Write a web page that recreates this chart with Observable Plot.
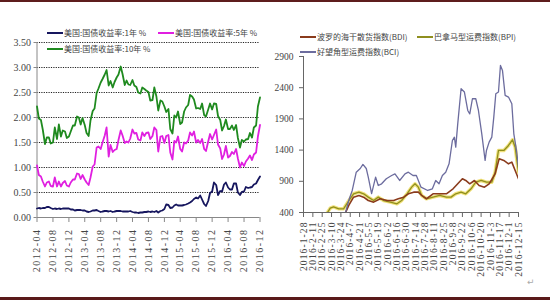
<!DOCTYPE html>
<html><head><meta charset="utf-8">
<script src="https://cdn.jsdelivr.net/npm/d3@7"></script>
<script src="https://cdn.jsdelivr.net/npm/@observablehq/plot@0.6"></script>
<style>
body{margin:0;background:#fff;}
#wrap{position:relative;width:550px;height:300px;overflow:hidden;background:#fff;}
.panel{position:absolute;top:0;}
.leg{position:absolute;font-family:"Noto Sans CJK SC";font-size:8px;color:#444;white-space:nowrap;display:flex;align-items:center;height:10px;line-height:10px;}
.leg i{display:inline-block;width:16px;height:2px;margin-right:1px;}
.lx g[aria-label="x-axis tick label"] text{letter-spacing:1.5px;}
.rx g[aria-label="x-axis tick label"] text{letter-spacing:1.1px;}
</style></head><body><div id="wrap"></div>
<script>
// ---------- Left chart: US treasury yields (semi-monthly: 1st & 15th, 2012-04-01 .. 2016-12-01)
const yieldStartYear = 2012, yieldStartMonth = 4, yieldCount = 113;
const yield10 = [
2.22,1.98, 1.95,1.76, 1.47,1.60, 1.60,1.48, 1.50,1.80, 1.57,1.86, 1.62,1.74, 1.72,1.59, 1.62,1.72,
1.84,1.84, 2.02,2.00, 1.86,1.99, 1.85,1.69, 1.63,1.94, 2.13,2.18, 2.49,2.58, 2.70,2.77, 2.86,2.95, 2.64,2.73, 2.60,2.71, 2.80,2.86,
3.02,2.87, 2.65,2.74, 2.66,2.65, 2.75,2.64, 2.61,2.50, 2.48,2.60, 2.57,2.54, 2.51,2.34, 2.35,2.60, 2.42,2.14, 2.34,2.32, 2.22,2.11,
2.17,1.77, 1.68,2.04, 2.00,2.12, 1.87,1.90, 2.12,2.20, 2.25,2.45, 2.42,2.36, 2.18,2.19, 2.17,2.28, 2.05,2.02, 2.16,2.28, 2.16,2.28,
2.27,2.03, 1.95,1.74, 1.83,1.96, 1.77,1.77, 1.84,1.75, 1.85,1.59, 1.40,1.55, 1.52,1.56, 1.57,1.69, 1.60,1.80, 1.84,2.22,
2.40];
const yield5 = [
1.04,0.85, 0.82,0.72, 0.62,0.70, 0.72,0.63, 0.62,0.80, 0.62,0.72, 0.62,0.69, 0.73,0.64, 0.62,0.70,
0.76,0.76, 0.88,0.87, 0.77,0.85, 0.76,0.70, 0.65,0.80, 1.02,1.06, 1.40,1.42, 1.37,1.50, 1.64,1.80, 1.22,1.45, 1.31,1.35, 1.37,1.55,
1.74,1.64, 1.49,1.52, 1.50,1.58, 1.76,1.68, 1.69,1.56, 1.54,1.70, 1.63,1.69, 1.70,1.57, 1.63,1.80, 1.75,1.32, 1.62,1.63, 1.49,1.63,
1.65,1.30, 1.16,1.53, 1.50,1.62, 1.37,1.32, 1.50,1.48, 1.54,1.70, 1.64,1.72, 1.50,1.55, 1.49,1.57, 1.37,1.33, 1.52,1.67, 1.56,1.65,
1.76,1.46, 1.38,1.17, 1.26,1.43, 1.20,1.23, 1.31,1.27, 1.37,1.18, 1.00,1.10, 1.03,1.12, 1.18,1.24, 1.15,1.26, 1.30,1.62,
1.85];
const yield1 = [
0.18,0.19, 0.18,0.19, 0.19,0.21, 0.21,0.19, 0.17,0.18, 0.17,0.18, 0.17,0.18, 0.18,0.18, 0.18,0.16,
0.16,0.14, 0.15,0.15, 0.15,0.14, 0.14,0.12, 0.11,0.12, 0.14,0.14, 0.15,0.13, 0.11,0.12, 0.13,0.13, 0.12,0.13, 0.11,0.12, 0.13,0.13,
0.13,0.12, 0.12,0.12, 0.12,0.13, 0.11,0.10, 0.10,0.09, 0.10,0.10, 0.11,0.11, 0.12,0.11, 0.12,0.11, 0.13,0.10, 0.13,0.14, 0.17,0.26,
0.25,0.19, 0.20,0.24, 0.26,0.24, 0.24,0.24, 0.25,0.26, 0.28,0.30, 0.33,0.37, 0.40,0.38, 0.44,0.36, 0.27,0.23, 0.33,0.49, 0.52,0.70,
0.65,0.45, 0.53,0.52, 0.66,0.70, 0.60,0.56, 0.56,0.68, 0.68,0.50, 0.45,0.51, 0.52,0.61, 0.59,0.60, 0.61,0.66, 0.68,0.75,
0.82];
const leftYTicks = [0, 0.5, 1, 1.5, 2, 2.5, 3, 3.5];
const leftXTickCount = 15; // 2012-04 .. 2016-12 every 4 months

// ---------- Right chart: dry bulk freight indices 2016
const bdi = [["2016-01-28",337],["2016-02-11",290],["2016-03-03",350],["2016-03-23",390],["2016-03-31",400],["2016-04-05",517],["2016-04-12",646],["2016-04-20",673],["2016-04-27",646],["2016-05-04",592],["2016-05-12",566],["2016-05-22",620],["2016-06-01",592],["2016-06-11",592],["2016-06-18",620],["2016-06-26",646],["2016-07-03",700],["2016-07-11",726],["2016-07-18",726],["2016-07-23",673],["2016-07-30",620],["2016-08-09",700],["2016-08-19",700],["2016-08-29",700],["2016-09-08",780],["2016-09-15",860],["2016-09-22",940],["2016-09-27",913],["2016-10-03",860],["2016-10-10",913],["2016-10-17",833],["2016-10-25",806],["2016-11-01",860],["2016-11-10",1020],["2016-11-16",1260],["2016-11-23",1234],["2016-11-30",1180],["2016-12-05",1207],["2016-12-10",1073],["2016-12-15",940]];
const bpi = [["2016-01-28",360],["2016-02-11",300],["2016-02-27",330],["2016-03-04",400],["2016-03-08",470],["2016-03-13",490],["2016-03-21",459],["2016-03-28",459],["2016-04-05",592],["2016-04-12",700],["2016-04-20",726],["2016-04-27",700],["2016-05-04",646],["2016-05-12",592],["2016-05-19",646],["2016-05-27",592],["2016-06-06",566],["2016-06-16",540],["2016-06-23",592],["2016-07-01",700],["2016-07-08",806],["2016-07-13",860],["2016-07-18",806],["2016-07-23",673],["2016-07-30",620],["2016-08-09",646],["2016-08-19",673],["2016-08-29",646],["2016-09-05",646],["2016-09-12",700],["2016-09-20",726],["2016-09-27",700],["2016-10-05",780],["2016-10-12",886],["2016-10-20",913],["2016-10-28",886],["2016-11-05",886],["2016-11-10",1046],["2016-11-15",1394],["2016-11-23",1394],["2016-11-30",1474],["2016-12-06",1565],["2016-12-10",1447],["2016-12-15",1046]];
const bci = [["2016-01-28",290],["2016-02-11",200],["2016-03-03",250],["2016-03-23",330],["2016-03-31",400],["2016-04-05",600],["2016-04-10",753],["2016-04-16",1046],["2016-04-22",1105],["2016-04-26",1170],["2016-05-01",1105],["2016-05-04",966],["2016-05-09",704],["2016-05-15",966],["2016-05-19",833],["2016-05-24",860],["2016-05-31",940],["2016-06-08",993],["2016-06-13",1020],["2016-06-20",913],["2016-06-28",1020],["2016-07-03",1046],["2016-07-10",993],["2016-07-15",993],["2016-07-22",806],["2016-08-01",753],["2016-08-08",780],["2016-08-13",913],["2016-08-18",860],["2016-08-23",993],["2016-08-28",1046],["2016-09-02",1180],["2016-09-07",1554],["2016-09-10",1607],["2016-09-12",1447],["2016-09-15",1821],["2016-09-20",2383],["2016-09-25",2330],["2016-09-30",2035],["2016-10-03",1981],["2016-10-07",2223],["2016-10-12",2223],["2016-10-16",2035],["2016-10-21",1661],["2016-10-26",1234],["2016-10-28",1394],["2016-11-01",1528],["2016-11-05",1607],["2016-11-08",1928],["2016-11-11",2303],["2016-11-15",2330],["2016-11-18",2757],["2016-11-21",2677],["2016-11-25",2276],["2016-11-30",2250],["2016-12-05",2143],["2016-12-08",1661],["2016-12-12",1394],["2016-12-15",1126]];
const rightYTicks = [400, 900, 1400, 1900, 2400, 2900];
const rightXTickCount = 24; // 2016-1-28 .. 2016-12-15 every 14 days

// ---------- build tables
const yieldDates = d3.range(yieldCount).map(i => new Date(Date.UTC(yieldStartYear, yieldStartMonth - 1 + Math.floor(i / 2), i % 2 ? 15 : 1)));
const toRows = vals => vals.map((v, i) => ({date: yieldDates[i], value: v}));
const leftXTicks = d3.range(leftXTickCount).map(i => new Date(Date.UTC(yieldStartYear, yieldStartMonth - 1 + 4 * i, 1)));
const rightXTicks = d3.range(rightXTickCount).map(i => new Date(Date.UTC(2016, 0, 28 + 14 * i)));
const rows = arr => arr.map(([d, v]) => ({date: new Date(d + "T00:00:00Z"), value: v}));

const wrap = document.getElementById("wrap");

const leftChart = Plot.plot({
  width: 270, height: 300,
  marginLeft: 36.5, marginRight: 10.5, marginTop: 42, marginBottom: 83,
  style: {fontFamily: "'Liberation Serif', serif", fontSize: "10px", color: "#333", background: "transparent"},
  x: {type: "utc", domain: [leftXTicks[0], leftXTicks[leftXTicks.length - 1]]},
  y: {domain: [0, 3.5]},
  marks: [
    Plot.gridY(leftYTicks.filter(d => d > 0), {stroke: "#222", strokeOpacity: 1, strokeDasharray: "1.2,1.2", strokeWidth: 1}),
    Plot.axisY(leftYTicks, {label: null, tickFormat: d3.format(".2f"), tickSize: 3, tickPadding: 3, stroke: "#888", fill: "#444"}),
    Plot.axisX(leftXTicks, {label: null, tickFormat: d => `${d.getUTCFullYear()}-${String(d.getUTCMonth() + 1).padStart(2, "0")}`, tickRotate: -90, tickSize: 5, tickPadding: 6, stroke: "#888", fill: "#444"}),
    Plot.ruleY([0], {stroke: "#888"}),
    Plot.ruleX([leftXTicks[0]], {stroke: "#888"}),
    Plot.lineY(toRows(yield10), {x: "date", y: "value", stroke: "#1f8a1f", strokeWidth: 1.8}),
    Plot.lineY(toRows(yield5), {x: "date", y: "value", stroke: "#e01fe0", strokeWidth: 1.8}),
    Plot.lineY(toRows(yield1), {x: "date", y: "value", stroke: "#16165e", strokeWidth: 1.8})
  ]
});
leftChart.classList.add("panel", "lx");
leftChart.style.left = "0px";
wrap.appendChild(leftChart);

const rightChart = Plot.plot({
  width: 280, height: 300,
  marginLeft: 33, marginRight: 32, marginTop: 56, marginBottom: 88,
  style: {fontFamily: "'Liberation Serif', serif", fontSize: "9.5px", color: "#333", background: "transparent"},
  x: {type: "utc", domain: [rightXTicks[0], rightXTicks[rightXTicks.length - 1]]},
  y: {domain: [400, 2900]},
  marks: [
    Plot.axisY(rightYTicks, {label: null, tickFormat: d3.format("d"), tickSize: 4, tickPadding: 6, stroke: "#666", fill: "#444"}),
    Plot.axisX(rightXTicks, {label: null, tickFormat: d => `${d.getUTCFullYear()}-${d.getUTCMonth() + 1}-${d.getUTCDate()}`, tickRotate: -90, tickSize: 5, tickPadding: 4, stroke: "#666", fill: "#444"}),
    Plot.ruleX([rightXTicks[0]], {stroke: "#666"}),
    Plot.ruleY([400], {stroke: "#666"}),
    Plot.lineY(rows(bpi), {x: "date", y: "value", stroke: "#f2e27c", strokeWidth: 3.5, clip: true}),
    Plot.lineY(rows(bpi), {x: "date", y: "value", stroke: "#8f8f1f", strokeWidth: 1.3, clip: true}),
    Plot.lineY(rows(bdi), {x: "date", y: "value", stroke: "#8a3b1c", strokeWidth: 1.6, clip: true}),
    Plot.lineY(rows(bci), {x: "date", y: "value", stroke: "#6c6c9e", strokeWidth: 1.3, clip: true})
  ]
});
rightChart.classList.add("panel", "rx");
rightChart.style.left = "270px";
wrap.appendChild(rightChart);

// legends
function legend(x, y, color, text) {
  const d = document.createElement("div");
  d.className = "leg";
  d.style.left = x + "px";
  d.style.top = (y - 5) + "px";
  d.innerHTML = `<i style="background:${color}"></i><span>${text}</span>`;
  wrap.appendChild(d);
}
legend(47, 33, "#16165e", "美国:国债收益率:1年 %");
legend(158, 33, "#e01fe0", "美国:国债收益率:5年 %");
legend(47, 49, "#1f8a1f", "美国:国债收益率:10年 %");
legend(300, 37, "#8a3b1c", "波罗的海干散货指数(BDI)");
legend(417, 37, "#8f8f1f", "巴拿马型运费指数(BPI)");
legend(300, 52, "#6c6c9e", "好望角型运费指数(BCI)");

// frame lines and return mark
const topBar = document.createElement("div");
topBar.style.cssText = "position:absolute;left:0;top:0;width:550px;height:2px;background:#5e1d1d;";
wrap.appendChild(topBar);
const bottomBar = document.createElement("div");
bottomBar.style.cssText = "position:absolute;left:0;top:297px;width:550px;height:3px;background:#5a1a1a;";
wrap.appendChild(bottomBar);
const retMark = document.createElement("div");
retMark.style.cssText = "position:absolute;left:527px;top:277px;font:9px 'DejaVu Sans';color:#aaa;";
retMark.textContent = "↵";
wrap.appendChild(retMark);
</script>
</body></html>
